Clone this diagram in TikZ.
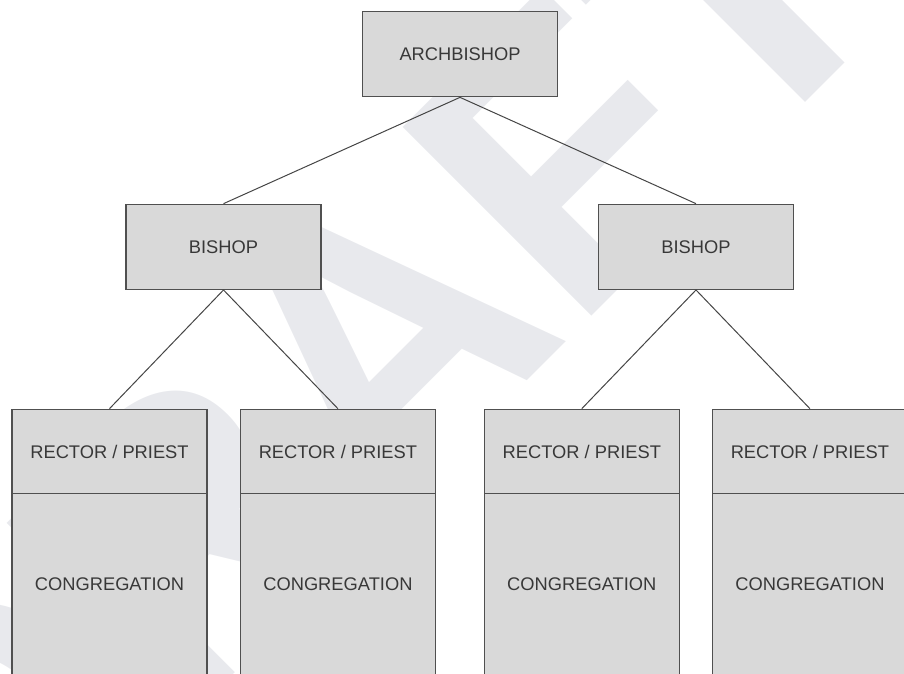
\documentclass[tikz,border=0pt]{standalone}
\usepackage{fontspec}
\setmainfont{Liberation Sans}
\definecolor{boxfill}{HTML}{D9D9D9}
\definecolor{boxline}{HTML}{505050}
\definecolor{inkgray}{HTML}{383838}
\definecolor{linkgray}{HTML}{454545}
\definecolor{wmark}{HTML}{E8E9ED}
\begin{document}
\begin{tikzpicture}[x=1pt,y=-1pt,
  box/.style={draw=boxline, fill=boxfill, line width=1.3pt, inner sep=0pt,
    minimum width=195pt, text=inkgray, font=\fontsize{18.3}{22}\selectfont},
  rankbox/.style={box, minimum height=85pt},
  rectorbox/.style={box, minimum height=84.4pt},
  flockbox/.style={box, minimum height=181.2pt},
  link/.style={draw=linkgray, line width=1pt},
  watermark/.style={anchor=base west, inner sep=0pt, rotate=45, text=wmark,
    font=\bfseries\fontsize{388}{388}\selectfont}]
\useasboundingbox (0,0) rectangle (904,673);
\clip (0,0) rectangle (904,673);

% background stamp
\node[watermark] (draft) at (-21,929) {DRAFT};

% top of the hierarchy
\node[rankbox] (arch) at (460,54.2) {ARCHBISHOP};
\node[rankbox] (bishL) at (223.5,246.8) {BISHOP};
\node[rankbox] (bishR) at (696,246.8) {BISHOP};

% parishes: rector above congregation
\foreach \name/\cx in {p1/109.5, p2/337.9, p3/581.8, p4/809.9} {
  \node[flockbox] (\name c) at (\cx,584.3) {CONGREGATION};
  \node[rectorbox] (\name r) at (\cx,451.5) {RECTOR / PRIEST};
}

% connectors
\draw[link] (arch.south) -- (bishL.north);
\draw[link] (arch.south) -- (bishR.north);
\draw[link] (bishL.south) -- (p1r.north);
\draw[link] (bishL.south) -- (p2r.north);
\draw[link] (bishR.south) -- (p3r.north);
\draw[link] (bishR.south) -- (p4r.north);
\end{tikzpicture}
\end{document}
